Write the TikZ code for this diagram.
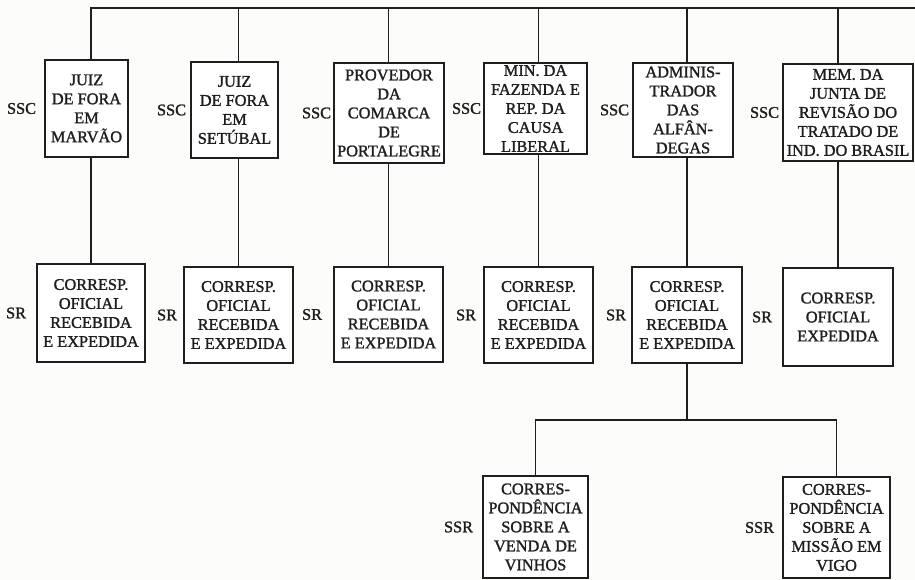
\documentclass[tikz,border=0pt]{standalone}
\usepackage{fontspec}
\setmainfont{Liberation Serif}
\newfontfamily\scanfont{Liberation Serif}[FakeBold=1.4]
\usetikzlibrary{positioning,backgrounds}
\definecolor{inkdark}{RGB}{30,30,30}
\definecolor{paper}{RGB}{252,252,250}
\tikzset{
  orgbox/.style={rectangle,draw=inkdark,line width=1.5pt,fill=white,align=center,inner sep=1pt,text=inkdark,font=\scanfont\fontsize{16.3}{19}\selectfont},
  levellabel/.style={text=inkdark,font=\scanfont\fontsize{16.3}{19}\selectfont,inner sep=0pt},
  link/.style={draw=inkdark,line width=1.4pt}
}

\begin{document}
\begin{tikzpicture}[x=1pt,y=-1pt]
  \useasboundingbox (0,0) rectangle (915,580);
  % subsections (SSC)
  \node[orgbox,minimum width=83pt,minimum height=97pt] (marvao) at (86.5,108.5) {JUIZ\\DE FORA\\EM\\MARVÃO};
  \node[orgbox,minimum width=87pt,minimum height=96pt] (setubal) at (234.5,110) {JUIZ\\DE FORA\\EM\\SETÚBAL};
  \node[orgbox,minimum width=110pt,minimum height=100pt] (portalegre) at (389,113) {PROVEDOR\\DA\\COMARCA\\DE\\PORTALEGRE};
  \node[orgbox,minimum width=103pt,minimum height=91pt] (fazenda) at (535.5,108.5) {MIN. DA\\FAZENDA E\\REP. DA\\CAUSA\\LIBERAL};
  \node[orgbox,minimum width=100pt,minimum height=94pt] (alfandegas) at (683,110) {ADMINIS-\\TRADOR\\DAS\\ALFÂN-\\DEGAS};
  \node[orgbox,minimum width=130pt,minimum height=97pt] (junta) at (848,112.5) {MEM. DA\\JUNTA DE\\REVISÃO DO\\TRATADO DE\\IND. DO BRASIL};
  \node[levellabel,left=8pt of marvao] (sscA) {SSC};
  \node[levellabel,left=4pt of setubal] (sscB) {SSC};
  \node[levellabel,left=2pt of portalegre] (sscC) {SSC};
  \node[levellabel,left=2pt of fazenda] (sscD) {SSC};
  \node[levellabel,left=3pt of alfandegas] (sscE) {SSC};
  \node[levellabel,left=3pt of junta] (sscF) {SSC};

  % series (SR)
  \node[orgbox,minimum width=108pt,minimum height=98pt] (cMarvao) at (91,313) {CORRESP.\\OFICIAL\\RECEBIDA\\E EXPEDIDA};
  \node[orgbox,minimum width=109pt,minimum height=96pt] (cSetubal) at (238.5,315) {CORRESP.\\OFICIAL\\RECEBIDA\\E EXPEDIDA};
  \node[orgbox,minimum width=109pt,minimum height=95pt] (cPortalegre) at (388.5,314.5) {CORRESP.\\OFICIAL\\RECEBIDA\\E EXPEDIDA};
  \node[orgbox,minimum width=109pt,minimum height=96pt] (cFazenda) at (538.5,315) {CORRESP.\\OFICIAL\\RECEBIDA\\E EXPEDIDA};
  \node[orgbox,minimum width=110pt,minimum height=96pt] (cAlfandegas) at (687,315) {CORRESP.\\OFICIAL\\RECEBIDA\\E EXPEDIDA};
  \node[orgbox,minimum width=110pt,minimum height=98pt] (cJunta) at (838,317) {CORRESP.\\OFICIAL\\EXPEDIDA};
  \node[levellabel,left=10pt of cMarvao] (srA) {SR};
  \node[levellabel,left=6pt of cSetubal] (srB) {SR};
  \node[levellabel,left=11pt of cPortalegre] (srC) {SR};
  \node[levellabel,left=7pt of cFazenda] (srD) {SR};
  \node[levellabel,left=5pt of cAlfandegas] (srE) {SR};
  \node[levellabel,left=10pt of cJunta] (srF) {SR};

  % subseries (SSR)
  \node[orgbox,minimum width=105pt,minimum height=102pt] (vinhos) at (535.5,527) {CORRES-\\PONDÊNCIA\\SOBRE A\\VENDA DE\\VINHOS};
  \node[orgbox,minimum width=107pt,minimum height=101pt] (vigo) at (836.5,527.5) {CORRES-\\PONDÊNCIA\\SOBRE A\\MISSÃO EM\\VIGO};
  \node[levellabel,left=9pt of vinhos] (ssrA) {SSR};
  \node[levellabel,left=8pt of vigo] (ssrB) {SSR};

  \coordinate (spineR) at (915,8);
  \coordinate (fork) at (687,420);
  \begin{scope}[on background layer]
    \fill[paper] (0,0) rectangle (915,580);
    \draw[link] (cMarvao.north) |- (spineR);
    \foreach \n in {cSetubal,cPortalegre,cFazenda,cAlfandegas,cJunta}
      \draw[link] (\n.north) -- (\n.north |- spineR);
    \draw[link] (cAlfandegas.south) -- (fork);
    \draw[link] (vinhos.north) |- (fork) -| (vigo.north);
  \end{scope}
\end{tikzpicture}
\end{document}
